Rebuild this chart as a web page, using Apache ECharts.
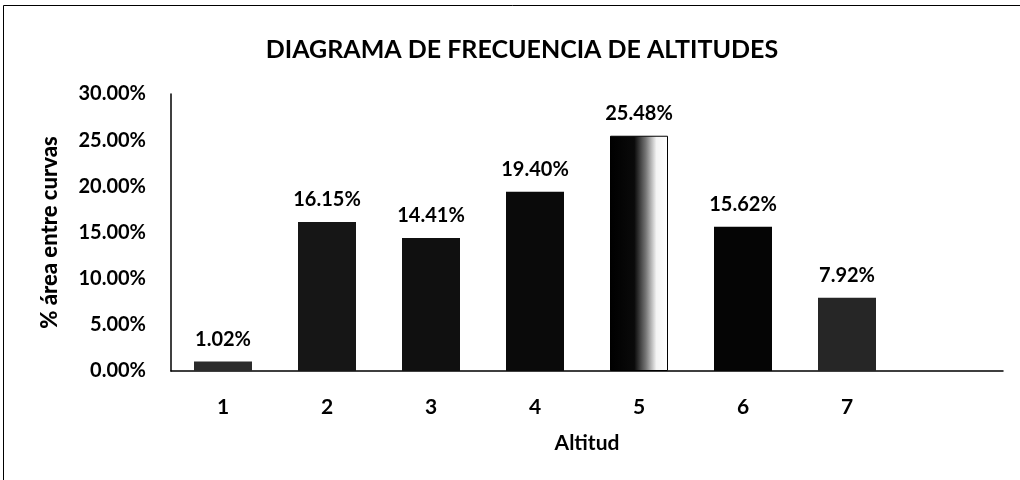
<!DOCTYPE html>
<html>
<head>
<meta charset="utf-8">
<script src="https://cdn.jsdelivr.net/npm/echarts@6/dist/echarts.min.js"></script>
<style>
  html, body { margin: 0; padding: 0; background: #fff; }
  #chart { width: 1020px; height: 480px; }
</style>
</head>
<body>
<div id="chart"></div>
<script>
// Altitude bands (category 8 is an empty slot, as in the original layout)
const categories = ['1', '2', '3', '4', '5', '6', '7', ''];
// Share of area between contour lines, in percent
const areaPercent = [1.02, 16.15, 14.41, 19.40, 25.48, 15.62, 7.92, null];
const yTicks = { min: 0, max: 30, interval: 5 };

const FONT = 'Lato, "Open Sans", sans-serif';
const barColors = ['#2b2b2b', '#161616', '#101010', '#0a0a0a', null, '#050505', '#262626'];

const barData = areaPercent.map(function (v, i) {
  if (v === null) return null;
  if (i === 4) {
    return {
      value: v,
      itemStyle: {
        color: new echarts.graphic.LinearGradient(0, 0, 1, 0, [
          { offset: 0, color: '#000' },
          { offset: 0.42, color: '#0a0a0a' },
          { offset: 0.62, color: '#777' },
          { offset: 0.8, color: '#f4f4f4' },
          { offset: 1, color: '#fff' }
        ]),
        borderColor: '#000',
        borderWidth: 1
      }
    };
  }
  return { value: v, itemStyle: { color: barColors[i] } };
});

const chart = echarts.init(document.getElementById('chart'), null, { renderer: 'canvas' });
chart.setOption({
  animation: false,
  backgroundColor: '#fff',
  title: {
    text: 'DIAGRAMA DE FRECUENCIA DE ALTITUDES',
    left: 517,
    textAlign: 'center',
    top: 32,
    textStyle: { fontFamily: FONT, fontSize: 25, fontWeight: 'bold', color: '#000' }
  },
  graphic: [{
    type: 'rect',
    shape: { x: 3.5, y: 5.5, width: 1100, height: 600 },
    style: { fill: 'none', stroke: '#000', lineWidth: 1 },
    silent: true
  }],
  grid: { left: 171, right: 17, top: 94, bottom: 109, containLabel: false },
  xAxis: {
    type: 'category',
    data: categories,
    name: 'Altitud',
    nameLocation: 'middle',
    nameGap: 62,
    nameTextStyle: { fontFamily: FONT, fontSize: 21, fontWeight: 'bold', color: '#000' },
    axisLine: { lineStyle: { color: '#000', width: 1.5 } },
    axisTick: { show: false },
    axisLabel: { margin: 26, fontFamily: FONT, fontSize: 21, fontWeight: 'bold', color: '#000' }
  },
  yAxis: {
    type: 'value',
    min: yTicks.min,
    max: yTicks.max,
    interval: yTicks.interval,
    name: '% área entre curvas',
    nameLocation: 'middle',
    nameRotate: 90,
    nameGap: 110,
    nameTextStyle: { fontFamily: FONT, fontSize: 22, fontWeight: 900, color: '#000' },
    axisLine: { show: true, lineStyle: { color: '#000', width: 1.5 } },
    axisTick: { show: false },
    splitLine: { show: false },
    axisLabel: {
      margin: 25,
      fontFamily: FONT, fontSize: 20, fontWeight: 'bold', color: '#000',
      formatter: function (v) { return v.toFixed(2) + '%'; }
    }
  },
  series: [{
    type: 'bar',
    data: barData,
    barWidth: 58,
    label: {
      show: true,
      position: 'top',
      distance: 12,
      fontFamily: FONT, fontSize: 20, fontWeight: 'bold', color: '#000',
      formatter: function (p) { return p.value.toFixed(2) + '%'; }
    }
  }]
});
</script>
</body>
</html>
